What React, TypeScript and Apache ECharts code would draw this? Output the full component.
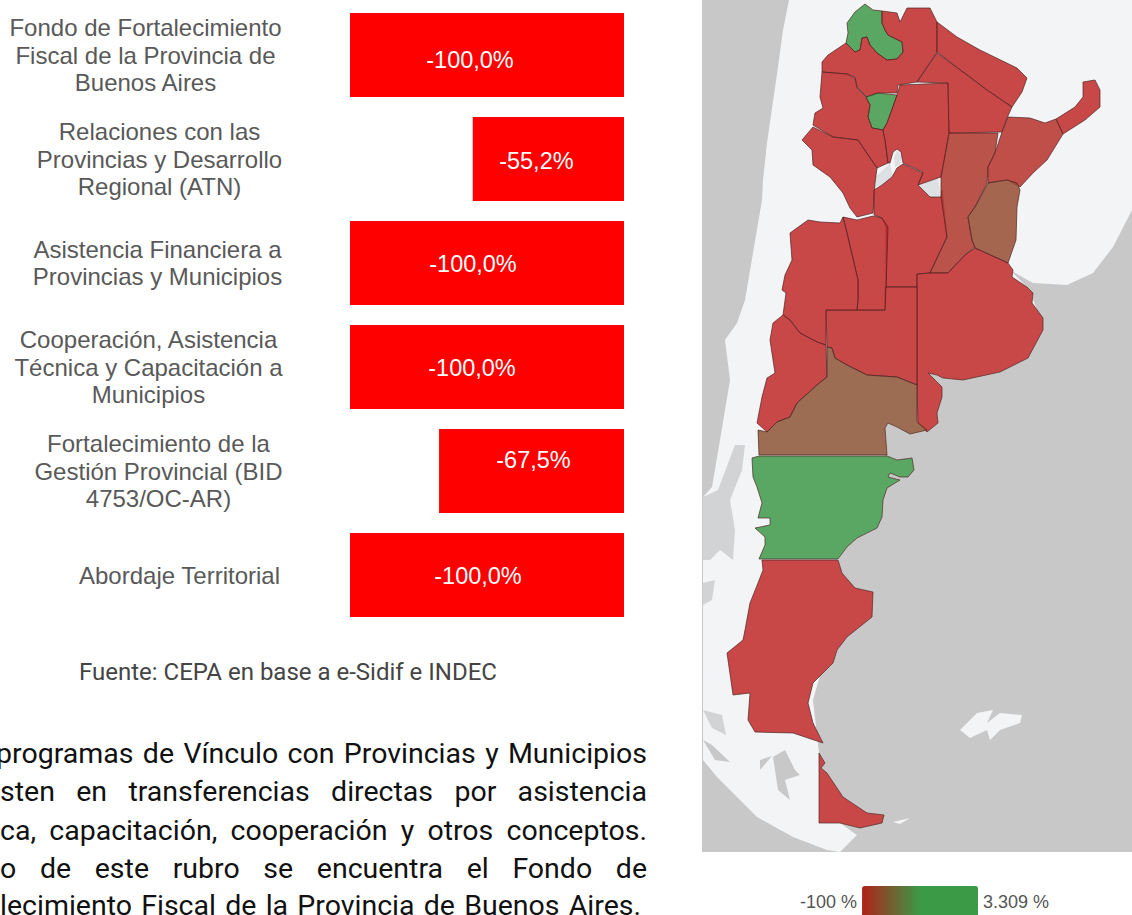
import React, { useEffect, useRef } from "react";
import * as echarts from "echarts";

const programLabels = [
  "Fondo de Fortalecimiento\nFiscal de la Provincia de\nBuenos Aires",
  "Relaciones con las\nProvincias y Desarrollo\nRegional (ATN)",
  "Asistencia Financiera a\nProvincias y Municipios",
  "Cooperación, Asistencia\nTécnica y Capacitación a\nMunicipios",
  "Fortalecimiento de la\nGestión Provincial (BID\n4753/OC-AR)",
  "Abordaje Territorial",
];
const programValues = [-100, -55.2, -100, -100, -67.5, -100];
const labelBlockWidths = [273, 245, 249, 267, 247, 205];
const valueLabelOffsets = [[-17, 5], [-12, 2], [-14, 1], [-15, 1], [2, -11], [-9, 1]];

const sourceText = "Fuente: CEPA en base a e-Sidif e INDEC";
const bodyLines = [
  { text: "programas de Vínculo con Provincias y Municipios", x: -4, y: 753 },
  { text: "sten en transferencias directas por asistencia", x: 0, y: 791 },
  { text: "ca, capacitación, cooperación y otros conceptos.", x: 0, y: 830 },
  { text: "o de este rubro se encuentra el Fondo de", x: 0, y: 868 },
  { text: "lecimiento Fiscal de la Provincia de Buenos Aires.", x: 0, y: 905, right: 641 },
];

const provinceNames = [
  "Jujuy", "Salta", "Tucumán", "Catamarca", "La Rioja", "Santiago del Estero", "Córdoba", "Santa Fe",
  "Formosa", "Chaco", "Corrientes", "Misiones", "Entre Ríos", "Buenos Aires", "La Pampa", "San Luis",
  "Mendoza", "Neuquén", "Río Negro", "Chubut", "Santa Cruz", "Tierra del Fuego",
];
const provinceValues = [
  3309, -100, 2600, -100, -100, -100, -100, 120,
  -100, -100, 36, -100, 445, -100, -100, -100,
  -100, -100, 582, 1900, -100, -100,
];

const provinceShapes: Record<string, number[][]> = {
  "Jujuy": [[865,4],[873,10],[882,11],[882,23],[885,30],[888,35],[902,42],[903,52],[897,59],[887,60],[877,53],[870,45],[867,37],[862,38],[860,50],[855,52],[846,43],[848,33],[847,23],[855,12]],
  "Salta": [[882,11],[897,13],[900,22],[907,8],[930,8],[937,22],[937,52],[917,82],[898,85],[897,93],[880,93],[867,97],[857,87],[855,77],[847,74],[822,72],[822,62],[828,55],[846,43],[855,52],[860,50],[862,38],[867,37],[870,45],[877,53],[887,60],[897,59],[903,52],[902,42],[888,35],[885,30],[882,23]],
  "Tucumán": [[866,97],[877,93],[897,95],[892,110],[887,123],[883,130],[872,128],[868,117],[870,105]],
  "Catamarca": [[822,72],[847,74],[855,78],[857,88],[866,97],[870,105],[868,117],[872,128],[883,130],[885,140],[888,163],[877,168],[868,155],[858,140],[833,137],[813,125],[815,113],[823,108],[820,97]],
  "La Rioja": [[813,127],[833,137],[858,140],[868,155],[877,168],[875,183],[873,213],[857,217],[850,208],[843,193],[830,177],[813,165],[812,150],[802,140]],
  "Santiago del Estero": [[900,85],[948,83],[949,133],[945,157],[941,177],[938,178],[918,185],[923,172],[903,163],[901,152],[897,149],[893,152],[890,163],[888,163],[885,140],[883,130],[887,123],[897,95]],
  "Córdoba": [[874,190],[882,185],[892,177],[897,168],[903,164],[923,173],[918,185],[930,197],[941,197],[942,190],[947,237],[930,273],[917,274],[917,287],[886,287],[886,227],[882,218],[874,215]],
  "Santa Fe": [[949,133],[998,133],[995,153],[988,167],[987,183],[975,207],[968,217],[972,240],[975,247],[965,255],[948,273],[930,273],[947,237],[941,197],[941,177]],
  "Formosa": [[937,22],[957,37],[980,50],[1017,68],[1027,78],[1022,92],[1012,107],[987,90],[963,72],[937,52]],
  "Chaco": [[937,53],[963,72],[987,90],[1012,107],[1007,118],[1002,132],[949,133],[948,83],[917,82]],
  "Corrientes": [[1008,117],[1030,118],[1045,123],[1056,119],[1063,134],[1047,160],[1033,173],[1020,187],[1007,180],[988,183],[988,167],[995,153],[1002,132]],
  "Misiones": [[1056,119],[1075,107],[1083,97],[1083,82],[1095,80],[1100,90],[1100,107],[1085,120],[1063,134]],
  "Entre Ríos": [[988,183],[1007,180],[1017,183],[1020,190],[1017,207],[1016,240],[1008,263],[975,248],[972,240],[968,217],[975,207]],
  "Buenos Aires": [[917,274],[930,273],[948,273],[965,255],[975,248],[1008,263],[1013,270],[1012,277],[1027,287],[1033,293],[1032,303],[1043,318],[1043,330],[1028,358],[1000,372],[963,380],[943,378],[937,375],[928,373],[942,387],[942,397],[937,413],[938,423],[927,432],[918,423],[917,385]],
  "La Pampa": [[826,310],[857,310],[885,310],[885,287],[917,287],[917,385],[897,377],[867,375],[847,365],[835,358],[832,348],[827,347]],
  "San Luis": [[843,217],[857,220],[873,216],[882,218],[888,227],[886,287],[885,310],[857,310],[858,300],[858,280],[855,267],[847,233]],
  "Mendoza": [[790,233],[808,220],[820,222],[840,223],[843,217],[847,233],[855,267],[858,280],[858,300],[857,310],[826,310],[826,345],[817,342],[800,333],[790,320],[783,315],[786,293],[782,290],[785,275],[792,260]],
  "Neuquén": [[783,315],[790,320],[800,333],[817,342],[826,345],[827,377],[817,385],[797,403],[790,417],[777,422],[767,432],[757,423],[762,397],[767,378],[775,373],[770,340],[773,323]],
  "Río Negro": [[827,347],[832,348],[835,358],[847,365],[867,375],[897,377],[917,385],[917,422],[927,430],[910,434],[897,427],[888,423],[885,428],[887,455],[759,455],[758,430],[767,432],[777,422],[790,417],[797,403],[817,385],[827,377]],
  "Chubut": [[752,458],[759,456],[887,456],[897,460],[912,458],[914,470],[908,477],[900,477],[890,473],[888,477],[900,480],[887,488],[883,500],[882,517],[877,528],[867,533],[857,538],[847,547],[838,559],[759,559],[765,545],[765,537],[755,528],[770,525],[770,518],[758,518],[762,503],[757,487],[753,477]],
  "Santa Cruz": [[762,560],[838,560],[842,573],[855,588],[873,592],[872,617],[847,637],[837,650],[833,663],[813,683],[808,703],[813,723],[823,743],[793,733],[755,732],[748,720],[750,693],[733,695],[727,653],[743,640],[745,630],[750,603],[758,583],[763,570]],
  "Tierra del Fuego": [[819,753],[825,763],[821,768],[827,773],[843,797],[867,813],[884,815],[882,823],[860,828],[840,823],[819,823]],
};

const LAND = "#f3f4f5";
const SEA = "#c8c8c8";
const ICE = "#d2d3d4";
const SALT = "#dde1e4";
const backgroundShapes: Record<string, { color: string; ring: number[][] }> = {
  Oceano: { color: SEA, ring: [[702,0],[1132,0],[1132,852],[702,852]] },
  Continente: { color: LAND, ring: [[789,0],[783,30],[778,67],[767,143],[763,180],[762,200],[745,300],[737,323],[725,340],[730,380],[720,440],[712,487],[703,497],[703,760],[717,777],[733,793],[757,817],[793,837],[827,850],[840,852],[857,835],[840,823],[819,823],[819,753],[813,700],[830,640],[838,560],[880,500],[885,455],[885,428],[917,385],[930,372],[1000,370],[1040,320],[1030,290],[1010,270],[1033,283],[1067,285],[1093,273],[1113,247],[1132,210],[1132,0]] },
  Malvinas: { color: LAND, ring: [[960,730],[977,713],[993,710],[987,723],[1000,713],[1022,715],[1020,723],[1000,730],[990,740],[987,730],[970,738]] },
  IslaEstados: { color: LAND, ring: [[893,822],[910,818],[900,824]] },
};
const overlayShapes: Record<string, { color: string; ring: number[][] }> = {
  Andes: { color: ICE, ring: [[703,497],[718,490],[735,445],[745,445],[742,470],[730,500],[735,530],[733,560],[720,550],[710,560],[703,560]] },
  HielosA: { color: SEA, ring: [[773,757],[785,750],[795,770],[800,775],[785,780],[790,800],[778,790],[775,770]] },
  HielosB: { color: SEA, ring: [[760,760],[772,756],[760,770]] },
  HielosC: { color: SEA, ring: [[703,740],[712,745],[730,762],[715,760]] },
  HielosD: { color: ICE, ring: [[703,583],[715,580],[712,600],[703,605]] },
  HielosE: { color: ICE, ring: [[703,710],[722,715],[726,735],[712,728]] },
  SalinaA: { color: SALT, ring: [[897,150],[902,157],[900,165],[895,167],[894,158]] },
  SalinaB: { color: SALT, ring: [[890,163],[893,177],[882,185],[875,187],[875,177],[880,173]] },
  SalinaC: { color: SALT, ring: [[918,185],[938,178],[941,197],[930,197]] },
};

const toFeature = (name: string, ring: number[][]) => ({
  type: "Feature",
  properties: { name },
  geometry: { type: "Polygon", coordinates: [[...ring, ring[0]]] },
});

const identityProjection = {
  project: (p: number[]) => p,
  unproject: (p: number[]) => p,
};
const mapBox = {
  left: 702,
  top: 0,
  width: 430,
  height: 852,
  boundingCoords: [[702, 0], [1132, 852]],
  projection: identityProjection,
  roam: false,
};

const BODY_FONT = "28.5px Roboto";
const BODY_RIGHT = 647;

function bodyTextElements() {
  const ctx = document.createElement("canvas").getContext("2d")!;
  ctx.font = BODY_FONT;
  const out: any[] = [];
  bodyLines.forEach((line) => {
    const words = line.text.split(" ");
    const widths = words.map((w) => ctx.measureText(w).width);
    const total = widths.reduce((a, b) => a + b, 0);
    const right = line.right ?? BODY_RIGHT;
    const gap = (right - line.x - total) / (words.length - 1);
    let x = line.x;
    words.forEach((w, i) => {
      out.push({
        type: "text",
        x,
        y: line.y,
        style: { text: w, font: BODY_FONT, fill: "#111111", verticalAlign: "middle" },
        silent: true,
      });
      x += widths[i] + gap;
    });
  });
  return out;
}

export default function App() {
  const ref = useRef<HTMLDivElement>(null);
  useEffect(() => {
    document.body.style.margin = "0";
    const chart = echarts.init(ref.current!, undefined, { renderer: "svg" });

    const landUnderProvinces = Object.fromEntries(
      provinceNames.map((n) => ["Base " + n, { color: LAND, ring: provinceShapes[n] }])
    );
    const baseShapes = { ...backgroundShapes, ...landUnderProvinces, ...overlayShapes };

    echarts.registerMap("mapaBase", {
      type: "FeatureCollection",
      features: Object.entries(baseShapes).map(([n, s]) => toFeature(n, s.ring)),
    } as any);
    echarts.registerMap("provincias", {
      type: "FeatureCollection",
      features: provinceNames.map((n) => toFeature(n, provinceShapes[n])),
    } as any);

    const rich: Record<string, any> = {};
    labelBlockWidths.forEach((w, i) => {
      rich["c" + i] = {
        width: w,
        align: "center",
        fontSize: 24,
        lineHeight: 27.5,
        color: "#595959",
        fontFamily: "Liberation Sans",
      };
    });

    chart.setOption({
      animation: false,
      backgroundColor: "#ffffff",
      tooltip: { show: false },
      grid: { left: 350, top: 3, width: 274, height: 624 },
      xAxis: { type: "value", min: -100, max: 0, show: false },
      yAxis: {
        type: "category",
        inverse: true,
        data: programLabels,
        axisLine: { show: false },
        axisTick: { show: false },
        axisLabel: {
          margin: 68,
          interval: 0,
          align: "right",
          formatter: (value: string, index: number) =>
            value.split("\n").map((l) => `{c${index}|${l}}`).join("\n"),
          rich,
        },
      },
      geo: {
        map: "mapaBase",
        ...mapBox,
        silent: true,
        label: { show: false },
        emphasis: { disabled: true },
        itemStyle: { borderWidth: 0, areaColor: LAND },
        regions: Object.entries(baseShapes).map(([name, s]) => ({
          name,
          itemStyle: { areaColor: s.color, borderWidth: 0 },
        })),
        z: 1,
      },
      visualMap: {
        type: "continuous",
        seriesIndex: 1,
        min: -100,
        max: 3309,
        orient: "horizontal",
        left: 800,
        top: 886,
        itemHeight: 116,
        itemWidth: 32,
        text: ["3.309 %", "-100 %"],
        textGap: 5,
        textStyle: { color: "#555555", fontSize: 18, fontFamily: "Liberation Sans" },
        calculable: false,
        realtime: false,
        inRange: { color: ["#c02828", "#3d9949", "#3d9949"] },
        controller: { inRange: { color: ["#b0221a", "#3a9a46", "#3a9a46"] } },
        padding: 0,
      },
      series: [
        {
          type: "bar",
          data: programValues.map((value, i) => ({
            value,
            label: { offset: valueLabelOffsets[i] },
          })),
          barWidth: 84,
          itemStyle: { color: "#ff0000" },
          label: {
            show: true,
            position: "inside",
            color: "#ffffff",
            fontSize: 23.5,
            fontFamily: "Liberation Sans",
            formatter: (p: any) => p.value.toFixed(1).replace(".", ",") + "%",
          },
          silent: true,
        },
        {
          type: "map",
          map: "provincias",
          ...mapBox,
          silent: true,
          label: { show: false },
          emphasis: { disabled: true },
          select: { disabled: true },
          selectedMode: false,
          itemStyle: { opacity: 0.85, borderColor: "#4a2020", borderWidth: 0.8 },
          data: provinceNames.map((name, i) => ({ name, value: provinceValues[i] })),
          z: 3,
        },
      ],
      graphic: [
        {
          type: "text",
          x: 79,
          y: 672,
          silent: true,
          style: {
            text: sourceText,
            font: "24px Roboto",
            fill: "#444444",
            verticalAlign: "middle",
          },
        },
        ...bodyTextElements(),
      ],
    });
    return () => chart.dispose();
  }, []);
  return <div ref={ref} style={{ width: 1132, height: 915, overflow: "hidden" }} />;
}
